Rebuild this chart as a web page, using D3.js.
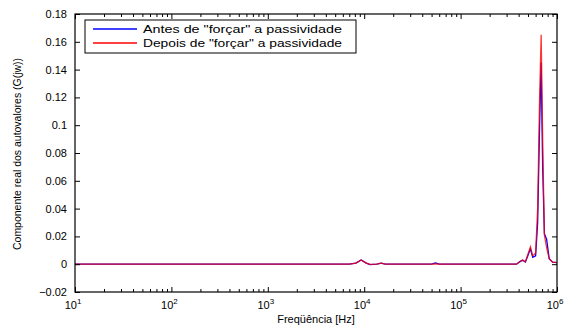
<!DOCTYPE html>
<html>
<head>
<meta charset="utf-8">
<script src="https://cdn.jsdelivr.net/npm/d3@7/dist/d3.min.js"></script>
<style>
  html, body { margin: 0; padding: 0; background: #fff; }
  svg { display: block; font-family: "Liberation Sans", Arial, sans-serif; }
</style>
</head>
<body>
<svg id="chart" width="568" height="327"></svg>
<script>
// Frequency samples (Hz)
const freq = [10, 7000, 8200, 9300, 10500, 11500, 13500, 15000, 16500, 50000, 55000, 60000,
  380000, 415000, 440000, 470000, 510000, 530000, 560000, 600000, 630000, 660000, 685000,
  710000, 740000, 780000, 830000, 900000, 1000000];
// Real part of eigenvalues before enforcing passivity
const antes = [0, 0, 0.0008, 0.0031, 0.0008, -0.0003, 0, 0.0008, 0, 0, 0.0009, 0,
  0, 0.002, 0.0028, 0.0015, 0.008, 0.011, 0.005, 0.006, 0.03, 0.10, 0.145,
  0.07, 0.022, 0.018, 0.004, 0.0015, 0.0012];
// Real part of eigenvalues after enforcing passivity
const depois = [0, 0, 0.0008, 0.0031, 0.0008, -0.0001, 0, 0.0008, 0, 0, 0.0002, 0,
  0, 0.002, 0.003, 0.0018, 0.009, 0.0125, 0.006, 0.008, 0.04, 0.12, 0.165,
  0.09, 0.021, 0.012, 0.004, 0.0015, 0.0012];

const yTicks = [-0.02, 0, 0.02, 0.04, 0.06, 0.08, 0.1, 0.12, 0.14, 0.16, 0.18];
const xDecades = [1, 2, 3, 4, 5, 6];
const seriesNames = ['Antes de "forçar" a passividade', 'Depois de "forçar" a passividade'];
const seriesColors = ["#0000ff", "#ff0000"];

const svg = d3.select("#chart");
const L = 75, R = 557, T = 14, B = 292;

const x = d3.scaleLog().domain([10, 1e6]).range([L, R]);
const y = d3.scaleLinear().domain([-0.02, 0.18]).range([B, T]);

// Minor tick values (2..9 per decade)
const minor = [];
for (let d = 1; d < 6; d++) for (let m = 2; m <= 9; m++) minor.push(m * Math.pow(10, d));

const gPlot = svg.append("g");
gPlot.append("defs").append("clipPath").attr("id", "clip")
  .append("rect").attr("x", L).attr("y", T).attr("width", R - L).attr("height", B - T);

// Lines
const line = d3.line().x((d, i) => x(freq[i])).y(d => y(d));
const lines = gPlot.append("g").attr("clip-path", "url(#clip)");
lines.append("path").datum(antes).attr("d", line)
  .attr("fill", "none").attr("stroke", seriesColors[0]).attr("stroke-width", 1.3);
lines.append("path").datum(depois).attr("d", line)
  .attr("fill", "none").attr("stroke", seriesColors[1]).attr("stroke-width", 1.3).attr("stroke-opacity", 0.8);

// Axes box
const axes = svg.append("g");
axes.append("rect").attr("x", L).attr("y", T).attr("width", R - L).attr("height", B - T)
  .attr("fill", "none").attr("stroke", "#000").attr("stroke-width", 1.2);

// Bottom axis (inward ticks)
const xAxisBottom = d3.axisBottom(x).tickValues(xDecades.map(d => Math.pow(10, d)))
  .tickSize(-5).tickFormat("");
axes.append("g").attr("transform", `translate(0,${B})`).call(xAxisBottom)
  .call(g => g.select(".domain").remove());
axes.append("g").attr("transform", `translate(0,${B})`)
  .call(d3.axisBottom(x).tickValues(minor).tickSize(-3).tickFormat(""))
  .call(g => g.select(".domain").remove());
// Top axis mirror
axes.append("g").attr("transform", `translate(0,${T})`)
  .call(d3.axisTop(x).tickValues(xDecades.map(d => Math.pow(10, d))).tickSize(-5).tickFormat(""))
  .call(g => g.select(".domain").remove());
axes.append("g").attr("transform", `translate(0,${T})`)
  .call(d3.axisTop(x).tickValues(minor).tickSize(-3).tickFormat(""))
  .call(g => g.select(".domain").remove());

// Left and right y axes
axes.append("g").attr("transform", `translate(${L},0)`)
  .call(d3.axisLeft(y).tickValues(yTicks).tickSize(-5).tickPadding(8)
    .tickFormat(d => d3.format("~g")(d)))
  .call(g => g.select(".domain").remove())
  .call(g => g.selectAll("text").attr("font-size", 11).attr("fill", "#000")
    .attr("font-family", "Liberation Sans, Arial, sans-serif"));
axes.append("g").attr("transform", `translate(${R},0)`)
  .call(d3.axisRight(y).tickValues(yTicks).tickSize(-5).tickFormat(""))
  .call(g => g.select(".domain").remove());

axes.selectAll(".tick line").attr("stroke", "#000").attr("stroke-width", 1);

// X tick labels with superscript exponents
const xl = svg.append("g").attr("font-size", 11).attr("fill", "#000");
xDecades.forEach(d => {
  const t = xl.append("text").attr("x", x(Math.pow(10, d)) - 2).attr("y", 309)
    .attr("text-anchor", "middle");
  t.append("tspan").text("10");
  t.append("tspan").attr("font-size", 8).attr("dy", -5).text(d);
});

// Axis titles
svg.append("text").attr("x", 316).attr("y", 323).attr("text-anchor", "middle")
  .attr("font-size", 11).text("Freqüência [Hz]");
svg.append("text").attr("transform", "translate(21,154) rotate(-90)")
  .attr("text-anchor", "middle").attr("font-size", 10)
  .attr("textLength", 192).attr("lengthAdjust", "spacingAndGlyphs")
  .text("Componente real dos autovalores (G(jw))");

// Legend
const lg = svg.append("g");
lg.append("rect").attr("x", 85).attr("y", 20).attr("width", 271).attr("height", 33)
  .attr("fill", "#fff").attr("stroke", "#000").attr("stroke-width", 1);
seriesNames.forEach((name, i) => {
  const yy = 29 + i * 14;
  lg.append("line").attr("x1", 93).attr("x2", 137).attr("y1", yy).attr("y2", yy)
    .attr("stroke", seriesColors[i]).attr("stroke-width", 1.3);
  lg.append("text").attr("x", 143).attr("y", yy + 4).attr("font-size", 11)
    .attr("textLength", 199).attr("lengthAdjust", "spacingAndGlyphs").text(name);
});
</script>
</body>
</html>
